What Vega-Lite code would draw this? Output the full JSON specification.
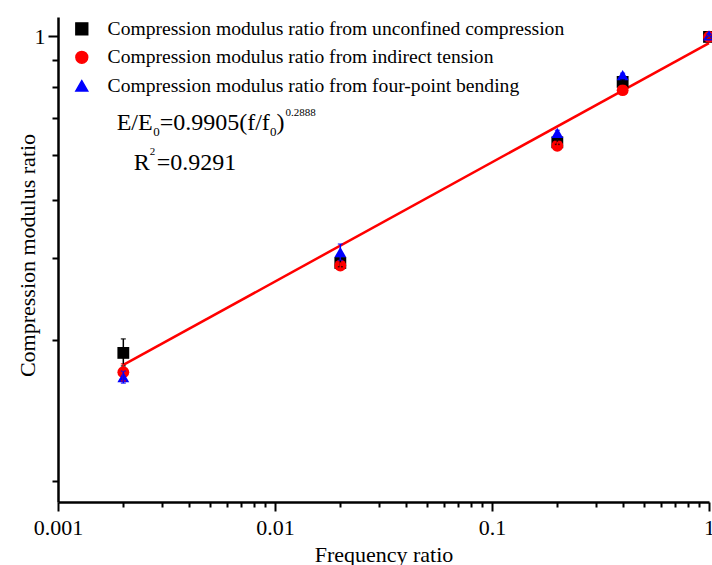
{
  "$schema": "https://vega.github.io/schema/vega-lite/v6.json",
  "autosize": "none",
  "padding": {"left": 58, "top": 17, "right": 3, "bottom": 63},
  "width": 651,
  "height": 485,
  "background": "white",
  "config": {
    "view": {"stroke": null},
    "axis": {
      "grid": false,
      "domainColor": "black",
      "domainWidth": 2.5,
      "tickColor": "black",
      "tickWidth": 2,
      "labelFont": "Liberation Serif",
      "labelFontSize": 22,
      "labelColor": "black",
      "titleFont": "Liberation Serif",
      "titleFontSize": 22,
      "titleFontWeight": "normal",
      "titleColor": "black"
    }
  },
  "datasets": {
    "points": [
      {"series": "Compression modulus ratio from unconfined compression", "f": 0.002, "r": 0.209, "lo": 0.196, "hi": 0.224},
      {"series": "Compression modulus ratio from unconfined compression", "f": 0.02, "r": 0.326, "lo": 0.320, "hi": 0.333},
      {"series": "Compression modulus ratio from unconfined compression", "f": 0.2, "r": 0.592, "lo": 0.586, "hi": 0.598},
      {"series": "Compression modulus ratio from unconfined compression", "f": 0.4, "r": 0.798, "lo": 0.790, "hi": 0.806},
      {"series": "Compression modulus ratio from unconfined compression", "f": 1, "r": 0.997, "lo": 0.990, "hi": 1.004},
      {"series": "Compression modulus ratio from indirect tension", "f": 0.002, "r": 0.190, "lo": 0.182, "hi": 0.198},
      {"series": "Compression modulus ratio from indirect tension", "f": 0.02, "r": 0.322, "lo": 0.317, "hi": 0.327},
      {"series": "Compression modulus ratio from indirect tension", "f": 0.2, "r": 0.582, "lo": 0.570, "hi": 0.594},
      {"series": "Compression modulus ratio from indirect tension", "f": 0.4, "r": 0.766, "lo": 0.758, "hi": 0.774},
      {"series": "Compression modulus ratio from indirect tension", "f": 1, "r": 0.997, "lo": 0.990, "hi": 1.004},
      {"series": "Compression modulus ratio from four-point bending", "f": 0.002, "r": 0.1855, "lo": 0.180, "hi": 0.191},
      {"series": "Compression modulus ratio from four-point bending", "f": 0.02, "r": 0.344, "lo": 0.330, "hi": 0.358},
      {"series": "Compression modulus ratio from four-point bending", "f": 0.2, "r": 0.620, "lo": 0.612, "hi": 0.628},
      {"series": "Compression modulus ratio from four-point bending", "f": 0.4, "r": 0.825, "lo": 0.817, "hi": 0.833},
      {"series": "Compression modulus ratio from four-point bending", "f": 1, "r": 1.005, "lo": 0.998, "hi": 1.012}
    ],
    "fit": [
      {"f": 0.002, "r": 0.197},
      {"f": 1, "r": 0.967}
    ],
    "notes": [
      {"part": "main", "f": 0.001864, "r": 0.6286, "t": "E/E"},
      {"part": "sub", "f": 0.002745, "r": 0.6102, "t": "0"},
      {"part": "main", "f": 0.00294, "r": 0.6286, "t": "=0.9905(f/f"},
      {"part": "sub", "f": 0.009493, "r": 0.6102, "t": "0"},
      {"part": "main", "f": 0.010171, "r": 0.6286, "t": ")"},
      {"part": "sup", "f": 0.011187, "r": 0.6735, "t": "0.2888"},
      {"part": "main", "f": 0.002232, "r": 0.5160, "t": "R"},
      {"part": "sup", "f": 0.002645, "r": 0.5555, "t": "2"},
      {"part": "main", "f": 0.002848, "r": 0.5160, "t": "=0.9291"}
    ]
  },
  "layer": [
    {
      "data": {"name": "fit"},
      "mark": {"type": "line", "color": "#ff0000", "strokeWidth": 2.5},
      "encoding": {
        "x": {"field": "f", "type": "quantitative", "title": "Frequency ratio",
          "scale": {"type": "log", "domain": [0.001, 1], "nice": false},
          "axis": {
            "values": [0.001, 0.002, 0.003, 0.004, 0.005, 0.006, 0.007, 0.008, 0.009, 0.01, 0.02, 0.03, 0.04, 0.05, 0.06, 0.07, 0.08, 0.09, 0.1, 0.2, 0.3, 0.4, 0.5, 0.6, 0.7, 0.8, 0.9, 1],
            "labelExpr": "indexof([0.001, 0.01, 0.1, 1], datum.value) >= 0 ? datum.value == 1 ? '1' : datum.value == 0.1 ? '0.1' : datum.value == 0.01 ? '0.01' : '0.001' : ''",
            "tickSize": {"condition": {"test": "indexof([0.001, 0.01, 0.1, 1], datum.value) >= 0", "value": 9}, "value": 5},
            "labelPadding": 6,
            "labelFlush": false,
            "labelOverlap": false,
            "titleX": 325.5,
            "titleY": 59,
            "titleBaseline": "alphabetic"
          }},
        "y": {"field": "r", "type": "quantitative", "title": "Compression modulus ratio",
          "scale": {"type": "log", "domain": [0.1, 1.1], "nice": false},
          "axis": {
            "values": [0.1111111, 0.2222222, 0.3333333, 0.4444444, 0.5555556, 0.6666667, 0.7777778, 0.8888889, 1],
            "labelExpr": "datum.value == 1 ? '1' : ''",
            "tickSize": {"condition": {"test": "datum.value == 1", "value": 10}, "value": 6},
            "labelPadding": 3,
            "labelOverlap": false,
            "labelFlush": false,
            "titleX": -31,
            "titleY": 238,
            "titleAngle": 270,
            "titleAlign": "center",
            "titleBaseline": "middle"
          }}
      }
    },
    {
      "data": {"name": "points"},
      "mark": {"type": "point", "filled": true, "size": 140, "opacity": 1},
      "encoding": {
        "x": {"field": "f", "type": "quantitative", "title": "Frequency ratio"},
        "y": {"field": "r", "type": "quantitative", "title": "Compression modulus ratio"},
        "color": {"field": "series", "type": "nominal",
          "scale": {"domain": ["Compression modulus ratio from unconfined compression", "Compression modulus ratio from indirect tension", "Compression modulus ratio from four-point bending"], "range": ["#000000", "#ff0000", "#0000ff"]},
          "legend": {"orient": "none", "legendX": 14, "legendY": 2, "title": null, "labelFont": "Liberation Serif", "labelFontSize": 19.6, "labelColor": "black", "symbolSize": 140, "rowPadding": 7.5, "labelOffset": 16, "padding": 0, "labelLimit": 600}},
        "shape": {"field": "series", "type": "nominal",
          "scale": {"domain": ["Compression modulus ratio from unconfined compression", "Compression modulus ratio from indirect tension", "Compression modulus ratio from four-point bending"], "range": ["square", "circle", "triangle-up"]},
          "legend": {"orient": "none", "legendX": 14, "legendY": 2, "title": null, "labelFont": "Liberation Serif", "labelFontSize": 19.6, "labelColor": "black", "symbolSize": 140, "rowPadding": 7.5, "labelOffset": 16, "padding": 0, "labelLimit": 600}}
      }
    },
    {
      "data": {"name": "points"},
      "mark": {"type": "errorbar", "ticks": true, "thickness": 1.5},
      "encoding": {
        "x": {"field": "f", "type": "quantitative", "title": "Frequency ratio"},
        "y": {"field": "lo", "type": "quantitative", "title": "Compression modulus ratio"},
        "y2": {"field": "hi"},
        "color": {"field": "series", "type": "nominal", "legend": null}
      }
    },
    {
      "data": {"name": "notes"},
      "transform": [{"filter": "datum.part == 'main'"}],
      "mark": {"type": "text", "font": "Liberation Serif", "fontSize": 24, "align": "left", "baseline": "alphabetic", "color": "black"},
      "encoding": {
        "x": {"field": "f", "type": "quantitative", "title": "Frequency ratio"},
        "y": {"field": "r", "type": "quantitative", "title": "Compression modulus ratio"},
        "text": {"field": "t"}
      }
    },
    {
      "data": {"name": "notes"},
      "transform": [{"filter": "datum.part == 'sub'"}],
      "mark": {"type": "text", "font": "Liberation Serif", "fontSize": 13, "align": "left", "baseline": "alphabetic", "color": "black"},
      "encoding": {
        "x": {"field": "f", "type": "quantitative", "title": "Frequency ratio"},
        "y": {"field": "r", "type": "quantitative", "title": "Compression modulus ratio"},
        "text": {"field": "t"}
      }
    },
    {
      "data": {"name": "notes"},
      "transform": [{"filter": "datum.part == 'sup'"}],
      "mark": {"type": "text", "font": "Liberation Serif", "fontSize": 11, "align": "left", "baseline": "alphabetic", "color": "black"},
      "encoding": {
        "x": {"field": "f", "type": "quantitative", "title": "Frequency ratio"},
        "y": {"field": "r", "type": "quantitative", "title": "Compression modulus ratio"},
        "text": {"field": "t"}
      }
    }
  ]
}
